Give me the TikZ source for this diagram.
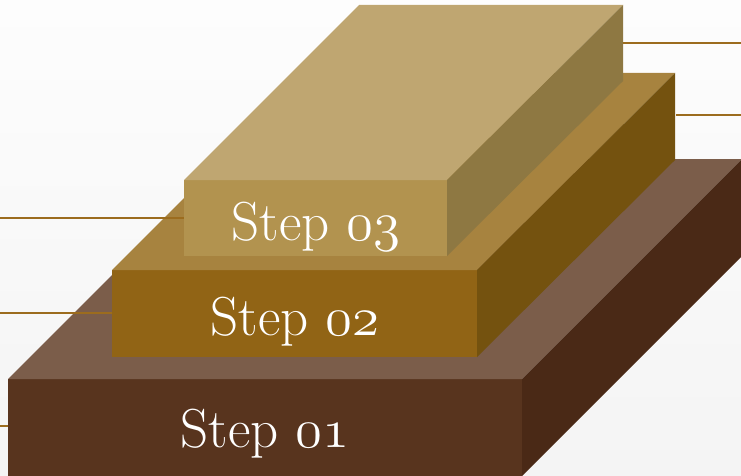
\documentclass[tikz,border=0pt]{standalone}
\usepackage{fontspec}
\usepackage{graphicx}
\newcommand{\osn}[1]{\scalebox{4.583}{\fontencoding{OML}\fontfamily{lmm}\fontseries{m}\fontshape{it}\fontsize{12}{14}\selectfont #1}}
\definecolor{bgtop}{HTML}{FDFDFD}
\definecolor{bgbot}{HTML}{F4F4F4}
\definecolor{aFront}{HTML}{58341E}
\definecolor{aTop}{HTML}{7B5D4A}
\definecolor{aSide}{HTML}{4A2916}
\definecolor{bFront}{HTML}{916415}
\definecolor{bTop}{HTML}{A7833F}
\definecolor{bSide}{HTML}{74520F}
\definecolor{cFront}{HTML}{B2934F}
\definecolor{cTop}{HTML}{BFA671}
\definecolor{cSide}{HTML}{8E7842}
\definecolor{lineCol}{HTML}{9C6C1E}
\tikzset{
  face/.style={inner sep=0pt, outer sep=0pt, anchor=north west},
  lbl/.style={text=white, anchor=base, inner sep=0pt, font=\fontsize{55}{60}\selectfont},
  leader/.style={draw=lineCol, line width=1.4pt}
}
\begin{document}
\begin{tikzpicture}[x=1pt,y=-1pt]
\useasboundingbox (0,0) rectangle (741,476);
\shade[top color=bgtop, bottom color=bgbot] (0,0) rectangle (741,476);
% bottom box
\node[face, fill=aFront, minimum width=514pt, minimum height=97pt] (f1) at (8,379) {};
\fill[aTop] (f1.north west) -- (f1.north east) -- ++(220,-220) -- ([shift={(220,-220)}]f1.north west) -- cycle;
\fill[aSide] (f1.north east) -- ++(220,-220) -- ([shift={(220,-220)}]f1.south east) -- (f1.south east) -- cycle;
% middle box
\node[face, fill=bFront, minimum width=365pt, minimum height=87pt] (f2) at (112,270) {};
\fill[bTop] (f2.north west) -- (f2.north east) -- ++(198,-197) -- ([shift={(197,-197)}]f2.north west) -- cycle;
\fill[bSide] (f2.north east) -- ++(198,-197) -- ([shift={(198,-197)}]f2.south east) -- (f2.south east) -- cycle;
% top box
\node[face, fill=cFront, minimum width=263pt, minimum height=76pt] (f3) at (184,180) {};
\fill[cTop] (f3.north west) -- (f3.north east) -- ++(176,-175) -- ([shift={(175,-175)}]f3.north west) -- cycle;
\fill[cSide] (f3.north east) -- ++(176,-175) -- ([shift={(176,-175)}]f3.south east) -- (f3.south east) -- cycle;
% labels
\node[lbl] (t1) at (265,447) {Step \osn{01}};
\node[lbl] (t2) at (295,335) {Step \osn{02}};
\node[lbl] (t3) at (316,240) {Step \osn{03}};
% leader lines
\coordinate (l3) at (0,218);
\coordinate (l2) at (0,313);
\coordinate (l1) at (0,426);
\coordinate (r3a) at (623,43);
\coordinate (r3b) at (741,43);
\coordinate (r2a) at (676,115);
\coordinate (r2b) at (741,115);
\draw[leader] (l3) -- (l3 -| f3.west);
\draw[leader] (l2) -- (l2 -| f2.west);
\draw[leader] (l1) -- (l1 -| f1.west);
\draw[leader] (r3a) -- (r3b);
\draw[leader] (r2a) -- (r2b);
\end{tikzpicture}
\end{document}
